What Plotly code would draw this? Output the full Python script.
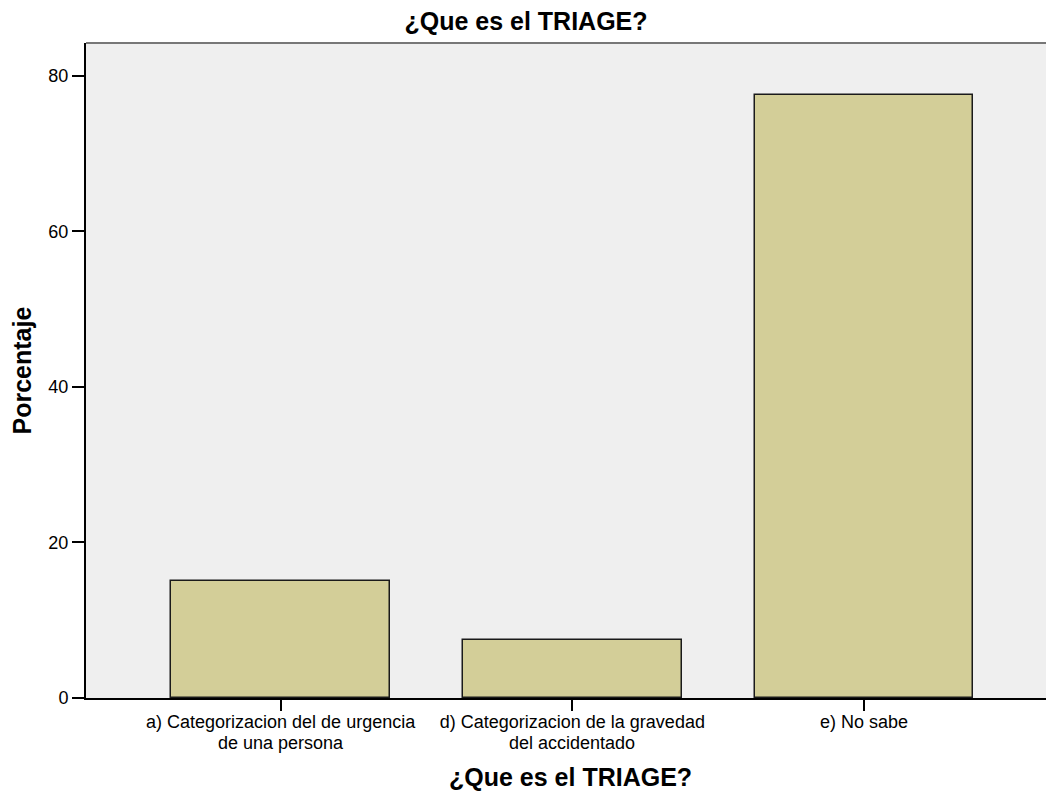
import plotly.graph_objects as go

categories_line1 = [
    "a) Categorizacion del de urgencia",
    "d) Categorizacion de la gravedad",
    "e) No sabe",
]
categories_line2 = [
    "de una persona",
    "del accidentado",
    "",
]
percentages = [15.0, 7.5, 77.5]
y_ticks = [0, 20, 40, 60, 80]
title_text = "¿Que es el TRIAGE?"
y_title = "Porcentaje"

FONT = "Liberation Sans, Arial, sans-serif"
TICK_SIZE = 18
TITLE_SIZE = 25

positions = list(range(len(percentages)))

fig = go.Figure()
fig.add_trace(go.Bar(
    x=positions,
    y=percentages,
    width=0.75,
    marker=dict(color="#d3ce98", line=dict(color="#1a1a1a", width=1.5)),
    hoverinfo="y",
))

W, H = 1046, 785
L, T, B = 78, 35, 95
plot_h = H - T - B
plot_w = W - L

fig.update_layout(
    width=W, height=H,
    margin=dict(l=L, r=0, t=T, b=B),
    paper_bgcolor="white",
    plot_bgcolor="#efefef",
    showlegend=False,
    font=dict(family=FONT, size=TICK_SIZE, color="black"),
    title=dict(text="<b>" + title_text + "</b>", x=518 / W, xref="container",
               xanchor="center", y=1 - 13 / H, yref="container", yanchor="middle",
               font=dict(family=FONT, size=TITLE_SIZE, color="black")),
    bargap=0,
)

fig.update_xaxes(
    range=[-0.667, 2.651],
    tickmode="array", tickvals=positions, ticktext=categories_line1,
    ticks="outside", ticklen=11, tickwidth=1.5, tickcolor="black",
    ticklabelstandoff=-5,
    showline=True, linecolor="black", linewidth=2,
    showgrid=False, zeroline=False,
    tickfont=dict(family=FONT, size=TICK_SIZE, color="black"),
)
fig.update_yaxes(
    range=[0, 84.2],
    tickmode="array", tickvals=y_ticks,
    ticks="outside", ticklen=12, tickwidth=1.5, tickcolor="black",
    showline=True, linecolor="black", linewidth=2,
    showgrid=False, zeroline=False,
    tickfont=dict(family=FONT, size=TICK_SIZE, color="black"),
)

# top border of plot area
fig.add_shape(type="line", xref="paper", yref="paper", x0=0, x1=1, y0=1, y1=1,
              line=dict(color="#777777", width=2))

# second line of the category labels (tight leading)
for xpos, txt in zip(positions, categories_line2):
    if txt:
        fig.add_annotation(text=txt, xref="x", yref="paper", x=xpos,
                           y=-(735 - 690) / plot_h, xanchor="center", yanchor="middle",
                           showarrow=False,
                           font=dict(family=FONT, size=TICK_SIZE, color="black"))

fig.add_annotation(text="<b>" + title_text + "</b>", xref="paper", yref="paper",
                   x=0.5, y=-(769 - 690) / plot_h, xanchor="center", yanchor="middle",
                   showarrow=False, font=dict(family=FONT, size=TITLE_SIZE, color="black"))
fig.add_annotation(text="<b>" + y_title + "</b>", xref="paper", yref="paper",
                   x=-(L - 13) / plot_w, y=0.5, xanchor="center", yanchor="middle",
                   textangle=-90, showarrow=False,
                   font=dict(family=FONT, size=TITLE_SIZE, color="black"))

fig.write_html("out.html")
